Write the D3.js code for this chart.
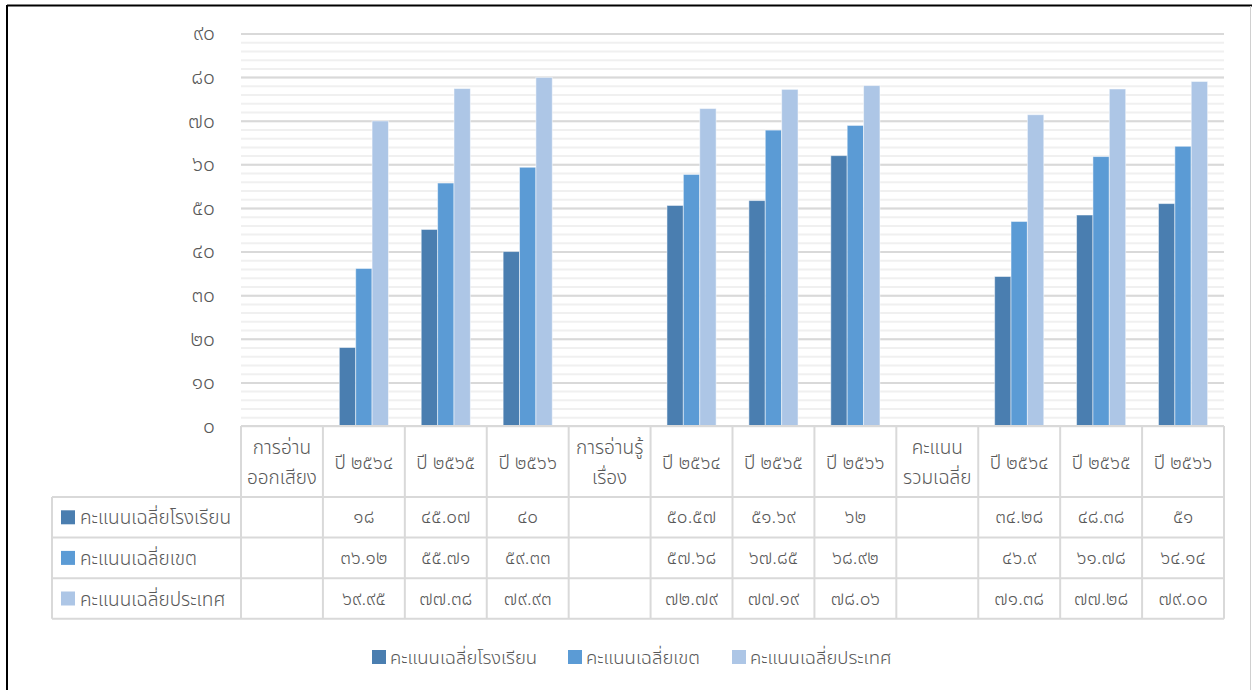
<!DOCTYPE html>
<html>
<head>
<meta charset="utf-8">
<script src="https://cdn.jsdelivr.net/npm/d3@7"></script>
<style>
  body { margin: 0; background: #fff; }
  svg text { font-family: Tahoma, "Noto Sans Thai", "Leelawadee UI", "DejaVu Sans", sans-serif; fill: #595959; font-weight: 300; }
</style>
</head>
<body>
<svg id="chart" width="1252" height="690"></svg>
<script>
// categories (two-line headers split by \n)
const categories = [
    'การอ่าน\nออกเสียง', 'ปี ๒๕๖๔', 'ปี ๒๕๖๕', 'ปี ๒๕๖๖',
    'การอ่านรู้\nเรื่อง', 'ปี ๒๕๖๔', 'ปี ๒๕๖๕', 'ปี ๒๕๖๖',
    'คะแนน\nรวมเฉลี่ย', 'ปี ๒๕๖๔', 'ปี ๒๕๖๕', 'ปี ๒๕๖๖'
];
const seriesNames = ['คะแนนเฉลี่ยโรงเรียน', 'คะแนนเฉลี่ยเขต', 'คะแนนเฉลี่ยประเทศ'];
// values as shown in the data table ('' = empty cell)
const schoolValues   = ['', '18', '45.07', '40', '', '50.57', '51.69', '62', '', '34.28', '48.38', '51'];
const districtValues = ['', '36.12', '55.71', '59.33', '', '57.68', '67.85', '68.92', '', '46.9', '61.78', '64.14'];
const nationValues   = ['', '69.95', '77.38', '79.93', '', '72.79', '77.19', '78.06', '', '71.38', '77.28', '79.00'];
const yTicks = [0, 10, 20, 30, 40, 50, 60, 70, 80, 90];

const seriesValues = [schoolValues, districtValues, nationValues];
const colors = ['#4a7eb0', '#5b9bd5', '#adc6e6'];

const thaiDigits = '๐๑๒๓๔๕๖๗๘๙';
const toThai = s => String(s).replace(/[0-9]/g, d => thaiDigits[+d]);

const svg = d3.select('#chart');

// outer frame
svg.append('line').attr('x1', 7).attr('x2', 1252).attr('y1', 5.5).attr('y2', 5.5)
    .attr('stroke', '#000').attr('stroke-width', 2);
svg.append('line').attr('x1', 7).attr('x2', 7).attr('y1', 5).attr('y2', 690)
    .attr('stroke', '#000').attr('stroke-width', 2);
svg.append('line').attr('x1', 1250.5).attr('x2', 1250.5).attr('y1', 6).attr('y2', 690)
    .attr('stroke', '#d0d0d0').attr('stroke-width', 1);

const plotLeft = 241, plotRight = 1224, plotTop = 33.5, plotBottom = 426;

const x = d3.scaleBand().domain(d3.range(categories.length))
    .range([plotLeft, plotRight]).paddingInner(0).paddingOuter(0);
const xSub = d3.scaleBand().domain(d3.range(3))
    .range([0, x.bandwidth()]).paddingInner(0).paddingOuter(1.0);
const y = d3.scaleLinear().domain([0, 90]).range([plotBottom, plotTop]);

const g = svg.append('g');

// minor gridlines
g.append('g')
    .attr('transform', `translate(${plotLeft},0)`)
    .call(d3.axisLeft(y).tickValues(d3.range(0, 91, 2)).tickSize(-(plotRight - plotLeft)).tickFormat(''))
    .call(a => a.select('.domain').remove())
    .call(a => a.selectAll('line').attr('stroke', '#f0f0f0').attr('stroke-width', 2));

// major gridlines
g.append('g')
    .attr('transform', `translate(${plotLeft},0)`)
    .call(d3.axisLeft(y).tickValues(yTicks.slice(1)).tickSize(-(plotRight - plotLeft)).tickFormat(''))
    .call(a => a.select('.domain').remove())
    .call(a => a.selectAll('line').attr('stroke', '#d9d9d9').attr('stroke-width', 2));

// y axis labels
g.append('g')
    .attr('transform', `translate(${plotLeft - 23},0)`)
    .call(d3.axisLeft(y).tickValues(yTicks).tickSize(0).tickFormat(d => toThai(d)))
    .call(a => a.select('.domain').remove())
    .call(a => a.selectAll('text').attr('font-size', 21).attr('fill', '#595959')
        .attr('font-family', null).attr('text-anchor', 'end').attr('dy', '0.3em'));

// bars
seriesValues.forEach((vals, si) => {
    g.append('g').selectAll('rect')
        .data(vals.map((v, i) => ({ i, v })).filter(d => d.v !== ''))
        .join('rect')
        .attr('x', d => x(d.i) + xSub(si))
        .attr('width', xSub.bandwidth())
        .attr('y', d => y(+d.v))
        .attr('height', d => y(0) - y(+d.v))
        .attr('fill', colors[si])
        .attr('stroke', '#ffffff').attr('stroke-opacity', 0.5).attr('stroke-width', 1);
});

// data table
const tableLeft = 52;
const headerTop = plotBottom, headerBottom = 497;
const rowH = 40.6;
const tableBottom = headerBottom + rowH * 3;
const tg = svg.append('g');
const lineColor = '#d9d9d9';

// header cell borders
categories.forEach((c, i) => {
    tg.append('line').attr('x1', x(i)).attr('x2', x(i)).attr('y1', headerTop).attr('y2', tableBottom)
        .attr('stroke', lineColor).attr('stroke-width', 2);
});
tg.append('line').attr('x1', plotRight).attr('x2', plotRight).attr('y1', headerTop).attr('y2', tableBottom)
    .attr('stroke', lineColor).attr('stroke-width', 2);
tg.append('line').attr('x1', plotLeft).attr('x2', plotRight).attr('y1', headerTop).attr('y2', headerTop)
    .attr('stroke', lineColor).attr('stroke-width', 2);
for (let r = 0; r <= 3; r++) {
    const yy = headerBottom + r * rowH;
    tg.append('line').attr('x1', tableLeft).attr('x2', plotRight).attr('y1', yy).attr('y2', yy)
        .attr('stroke', lineColor).attr('stroke-width', 2);
}
tg.append('line').attr('x1', tableLeft).attr('x2', tableLeft).attr('y1', headerBottom).attr('y2', tableBottom)
    .attr('stroke', lineColor).attr('stroke-width', 2);

// header labels
categories.forEach((c, i) => {
    const lines = c.split('\n');
    const cx = x(i) + x.bandwidth() / 2;
    const cy = (headerTop + headerBottom) / 2;
    const t = tg.append('text').attr('x', cx).attr('text-anchor', 'middle').attr('font-size', 19);
    lines.forEach((ln, k) => {
        t.append('tspan').attr('x', cx)
            .attr('y', cy + 7 + (k - (lines.length - 1) / 2) * 30)
            .text(ln);
    });
});

// rows
seriesValues.forEach((vals, si) => {
    const top = headerBottom + si * rowH;
    const cy = top + rowH / 2;
    tg.append('rect').attr('x', 61).attr('y', cy - 7).attr('width', 14).attr('height', 14).attr('fill', colors[si]);
    tg.append('text').attr('x', 80).attr('y', cy + 7).attr('font-size', 19).text(seriesNames[si]);
    vals.forEach((v, i) => {
        if (v === '') return;
        tg.append('text').attr('x', x(i) + x.bandwidth() / 2).attr('y', cy + 6)
            .attr('text-anchor', 'middle').attr('font-size', 19).text(toThai(v));
    });
});

// legend
const legendX = [372, 568, 732];
const lg = svg.append('g');
seriesNames.forEach((n, si) => {
    lg.append('rect').attr('x', legendX[si]).attr('y', 650).attr('width', 14).attr('height', 14).attr('fill', colors[si]);
    lg.append('text').attr('x', legendX[si] + 18).attr('y', 664).attr('font-size', 18.5).text(n);
});
</script>
</body>
</html>
